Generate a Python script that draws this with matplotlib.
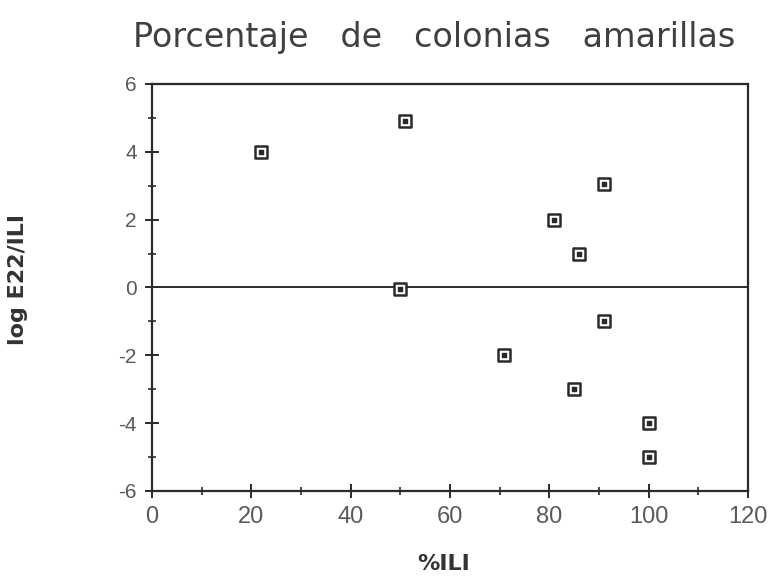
import matplotlib
matplotlib.use("Agg")
import matplotlib.pyplot as plt
from matplotlib.ticker import MultipleLocator

# Percentage of ILI vs log E22/ILI
pct_ili = [22, 51, 50, 91, 81, 86, 91, 71, 85, 100, 100]
log_ratio = [4.0, 4.9, -0.05, 3.05, 2.0, 1.0, -1.0, -2.0, -3.0, -4.0, -5.0]

x_ticks = [0, 20, 40, 60, 80, 100, 120]
y_ticks = [-6, -4, -2, 0, 2, 4, 6]

fig = plt.figure(figsize=(7.79, 5.79), dpi=100)
fig.patch.set_facecolor("white")
ax = fig.add_axes([0.195, 0.152, 0.765, 0.703])

ink = "#2a2a2a"
soft = "#5a5a5a"

ax.axhline(0, color=ink, lw=1.4, zorder=1)
ax.scatter(pct_ili, log_ratio, marker="s", s=70, facecolor="white",
           edgecolor=ink, linewidths=1.8, zorder=3)
ax.scatter(pct_ili, log_ratio, marker="s", s=5, color=ink, zorder=4)

ax.set_xlim(0, 120)
ax.set_ylim(-6, 6)
ax.set_xticks(x_ticks)
ax.set_yticks(y_ticks)
ax.xaxis.set_minor_locator(MultipleLocator(10))
ax.yaxis.set_minor_locator(MultipleLocator(1))

ax.set_xticklabels([str(v) for v in x_ticks], fontsize=17, color=soft,
                   family="Liberation Sans")
ax.set_yticklabels([str(v) for v in y_ticks], fontsize=15, color=soft,
                   family="Liberation Sans")
ax.tick_params(axis="both", which="major", direction="inout", length=10,
               width=1.4, color=ink, pad=6)
ax.tick_params(axis="both", which="minor", direction="inout", length=6,
               width=1.2, color=ink)

for side in ax.spines.values():
    side.set_color(ink)
    side.set_linewidth(1.6)

ax.set_xlabel("%ILI", fontsize=16, fontweight="bold", color="#333333")
ax.xaxis.set_label_coords(0.49, -0.155)
ax.set_ylabel("log E22/ILI", fontsize=16, fontweight="bold", color="#333333")
ax.yaxis.set_label_coords(-0.208, 0.52)

fig.text(0.171, 0.935, "Porcentaje   de   colonias   amarillas",
         ha="left", va="center", fontsize=24, color="#404040",
         family="DejaVu Sans")

fig.savefig("out.png", dpi=100)
